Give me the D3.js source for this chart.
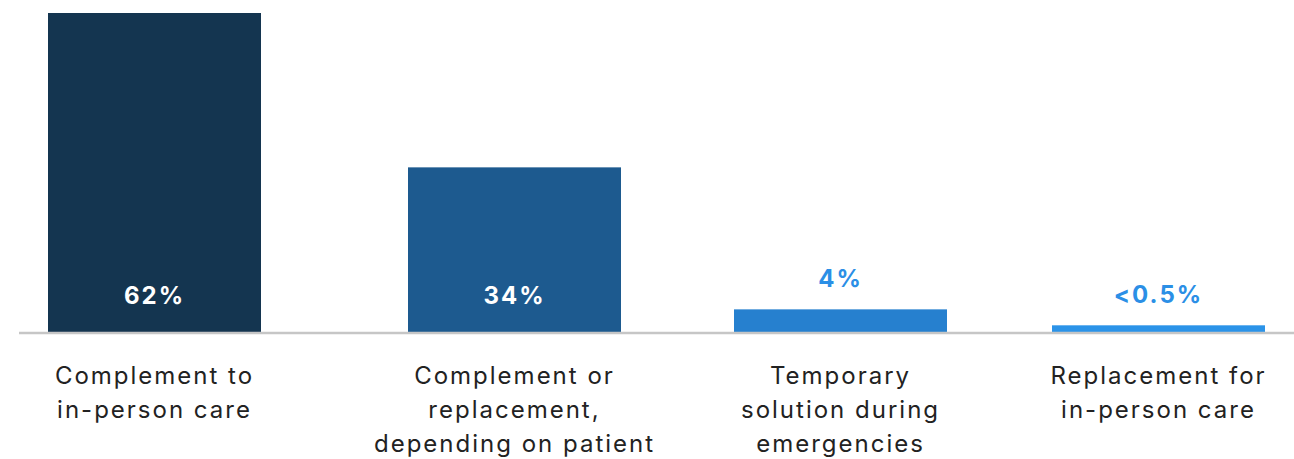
<!DOCTYPE html>
<html>
<head>
<meta charset="utf-8">
<script src="https://cdn.jsdelivr.net/npm/d3@7"></script>
<style>
  html, body { margin: 0; padding: 0; background: #fff; }
  svg { display: block; }
</style>
</head>
<body>
<svg id="chart" width="1294" height="459"></svg>
<script>
// ---- data ----
const categories = [
  ["Complement to", "in-person care"],
  ["Complement or", "replacement,", "depending on patient"],
  ["Temporary", "solution during", "emergencies"],
  ["Replacement for", "in-person care"]
];
const categoryKeys = ["complement", "either", "temporary", "replacement"];
const values = [62, 32, 4.4, 1.3];          // bar heights
const valueLabels = ["62%", "34%", "4%", "<0.5%"];
const barColors = ["#143550", "#1d5a8f", "#2680cf", "#2b93e8"];
const labelColors = ["#ffffff", "#ffffff", "#2b8fe6", "#2b8fe6"];
const insideBar = [true, true, false, false];

// ---- layout ----
const W = 1294, H = 459;
const baseY = 332, topY = 13;
const barW = 213;

const svg = d3.select("#chart");

const x = d3.scaleOrdinal()
  .domain(categoryKeys)
  .range([154.5, 514.5, 840.5, 1158.5]);

const y = d3.scaleLinear()
  .domain([0, 62])
  .range([baseY, topY]);

const data = categoryKeys.map((k, i) => ({
  key: k, lines: categories[i], value: values[i], label: valueLabels[i],
  color: barColors[i], labelColor: labelColors[i], inside: insideBar[i]
}));

// bars
svg.append("g").selectAll("rect")
  .data(data).join("rect")
  .attr("x", d => x(d.key) - barW / 2)
  .attr("y", d => y(d.value))
  .attr("width", barW)
  .attr("height", d => baseY - y(d.value))
  .attr("fill", d => d.color);

// baseline
svg.append("line")
  .attr("x1", 19).attr("x2", W)
  .attr("y1", baseY + 1).attr("y2", baseY + 1)
  .attr("stroke", "#c6c6c6").attr("stroke-width", 2.5);

// value labels
svg.append("g").selectAll("text")
  .data(data).join("text")
  .attr("x", d => x(d.key))
  .attr("y", d => d.inside ? 304 : y(d.value) - 22)
  .attr("text-anchor", "middle")
  .attr("fill", d => d.labelColor)
  .style("font-family", "Inter, 'Noto Sans', sans-serif")
  .style("font-weight", 700)
  .style("font-size", "24px")
  .style("letter-spacing", "2px")
  .text(d => d.label);

// category labels
const cat = svg.append("g").selectAll("text")
  .data(data).join("text")
  .attr("x", d => x(d.key))
  .attr("y", 384)
  .attr("text-anchor", "middle")
  .attr("fill", "#222222")
  .style("font-family", "Inter, 'Noto Sans', sans-serif")
  .style("font-size", "24px")
  .style("letter-spacing", "2px");

cat.selectAll("tspan")
  .data(d => d.lines.map(l => ({ l, cx: x(d.key) })))
  .join("tspan")
  .attr("x", t => t.cx)
  .attr("dy", (t, i) => i === 0 ? 0 : 34)
  .text(t => t.l);
</script>
</body>
</html>
